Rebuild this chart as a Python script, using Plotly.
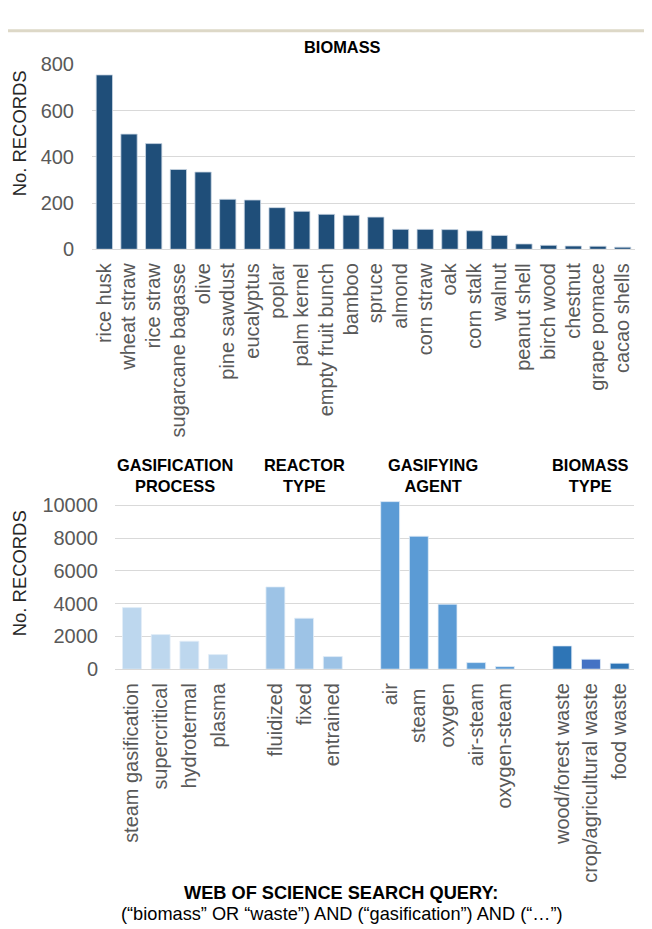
import plotly.graph_objects as go

# ---------------- data ----------------
biomass_labels = ["rice husk", "wheat straw", "rice straw", "sugarcane bagasse", "olive",
                  "pine sawdust", "eucalyptus", "poplar", "palm kernel", "empty fruit bunch",
                  "bamboo", "spruce", "almond", "corn straw", "oak", "corn stalk", "walnut",
                  "peanut shell", "birch wood", "chestnut", "grape pomace", "cacao shells"]
biomass_records = [754, 498, 457, 345, 334, 216, 213, 180, 164, 151,
                   147, 139, 86, 86, 85, 80, 60, 23, 17, 14, 13, 9]

process_labels = ["steam gasification", "supercritical", "hydrotermal", "plasma"]
process_records = [3756, 2110, 1707, 890]

reactor_labels = ["fluidized", "fixed", "entrained"]
reactor_records = [5018, 3110, 768]

agent_labels = ["air", "steam ", "oxygen", "air-steam", "oxygen-steam"]
agent_records = [10220, 8110, 3963, 402, 160]

type_labels = ["wood/forest waste", "crop/agricultural waste", "food waste"]
type_records = [1420, 610, 366]

group_titles = ["GASIFICATION<br>PROCESS", "REACTOR<br>TYPE", "GASIFYING<br>AGENT", "BIOMASS<br>TYPE"]
group_colors = [["#BDD7EE"] * 4, ["#9DC3E6"] * 3, ["#5B9BD5"] * 5,
                ["#2E75B6", "#4472C4", "#2E75B6"]]

# ---------------- build grouped categories ----------------
groups = [(process_labels, process_records), (reactor_labels, reactor_records),
          (agent_labels, agent_records), (type_labels, type_records)]
cat_x, cat_y, cat_c, real_ticks = [], [], [], []
group_centers = []
for gi, (labs, vals) in enumerate(groups):
    if gi > 0:
        cat_x.append("gap%d" % gi)
        cat_y.append(None)
        cat_c.append("#FFFFFF")
    start = len(cat_x)
    cat_x += labs
    cat_y += vals
    cat_c += group_colors[gi]
    real_ticks += labs
    group_centers.append((start + len(cat_x) - 1) / 2)
# gasifying agent title sits between 'steam' and 'oxygen' in the reference
group_centers[2] = group_centers[2] - 0.5

# figure size; screen position (X, Y) -> figure fraction
W, H = 652, 929
KY = 0.9765
OX, OY = 8.0, 18.7
def px(X):
    return (X - OX) / W
def py(Y):
    return 1 - ((Y - OY) / KY) / H
def fsv(size):
    return size / KY

FONT = "Liberation Sans, Arial, sans-serif"
GRID = "#D9D9D9"
TICK = "#595959"
CAT_SIZE = fsv(19.5)
TICK_SIZE = 20

fig = go.Figure()
fig.add_trace(go.Bar(x=biomass_labels, y=biomass_records, xaxis="x", yaxis="y",
                     marker=dict(color="#1F4E79", line=dict(color="#C9D6E3", width=0.8)),
                     width=0.66, showlegend=False, hoverinfo="x+y"))
fig.add_trace(go.Bar(x=cat_x, y=cat_y, xaxis="x2", yaxis="y2",
                     marker=dict(color=cat_c, line=dict(color="#E3EDF7", width=0.8)),
                     width=0.66, showlegend=False, hoverinfo="x+y"))

fig.update_layout(
    width=W, height=H,
    margin=dict(l=0, r=0, t=0, b=0),
    paper_bgcolor="white", plot_bgcolor="white",
    font=dict(family=FONT, color=TICK),
    xaxis=dict(domain=[px(92), px(635)], anchor="y", type="category",
               tickangle=-90, tickfont=dict(size=CAT_SIZE, color=TICK),
               showgrid=False, showline=True, linecolor=GRID, linewidth=1,
               ticks="", ticklabelstandoff=5),
    yaxis=dict(domain=[py(249), py(64)], anchor="x", range=[0, 800],
               tickvals=[0, 200, 400, 600, 800], tickfont=dict(size=TICK_SIZE, color=TICK),
               showgrid=True, gridcolor=GRID, gridwidth=1, zeroline=False,
               showline=False, ticklabelstandoff=17),
    xaxis2=dict(domain=[px(115), px(634)], anchor="y2", type="category",
                categoryorder="array", categoryarray=cat_x,
                tickvals=real_ticks, ticktext=real_ticks,
                tickangle=-90, tickfont=dict(size=CAT_SIZE, color=TICK),
                showgrid=False, showline=True, linecolor=GRID, linewidth=1, ticks="",
                ticklabelstandoff=5),
    yaxis2=dict(domain=[py(669), py(669 - 164 * 1.05)], anchor="x2", range=[0, 10500],
                tickvals=[0, 2000, 4000, 6000, 8000, 10000], tickformat="d",
                tickfont=dict(size=TICK_SIZE, color=TICK),
                showgrid=True, gridcolor=GRID, gridwidth=1, zeroline=False,
                showline=False, ticklabelstandoff=16),
    bargap=0.34,
)

ann = []
ann.append(dict(text="<b>BIOMASS</b>", x=px(342), y=py(47), xref="paper", yref="paper",
                showarrow=False, font=dict(size=16.4, color="#000000"), xanchor="center", yanchor="middle"))
ann.append(dict(text="No. RECORDS", x=px(19), y=py(133), xref="paper", yref="paper", textangle=-90,
                showarrow=False, font=dict(size=fsv(18), color="#262626"), xanchor="center", yanchor="middle"))
ann.append(dict(text="No. RECORDS", x=px(19), y=py(573), xref="paper", yref="paper", textangle=-90,
                showarrow=False, font=dict(size=fsv(18), color="#262626"), xanchor="center", yanchor="middle"))
for t, c in zip(group_titles, group_centers):
    ann.append(dict(text="<b>%s</b>" % t, x=c, y=py(475), xref="x2", yref="paper",
                    showarrow=False, font=dict(size=16.4, color="#000000"),
                    xanchor="center", yanchor="middle"))
ann.append(dict(text="<b>WEB OF SCIENCE SEARCH QUERY:</b>", x=px(341), y=py(893), xref="paper", yref="paper",
                showarrow=False, font=dict(size=18.2, color="#000000"), xanchor="center", yanchor="middle"))
ann.append(dict(text="(“biomass” OR “waste”) AND (“gasification”) AND (“…”)", x=px(342), y=py(914),
                xref="paper", yref="paper",
                showarrow=False, font=dict(size=18.2, color="#000000"), xanchor="center", yanchor="middle"))
fig.update_layout(annotations=ann)

# thin beige rule across the top of the page
fig.add_shape(type="line", xref="paper", yref="paper", x0=0, x1=px(652),
              y0=1 - 12 / H, y1=1 - 12 / H, line=dict(color="#DDD8C7", width=3))

fig.write_html("out.html", config={"displayModeBar": False})
